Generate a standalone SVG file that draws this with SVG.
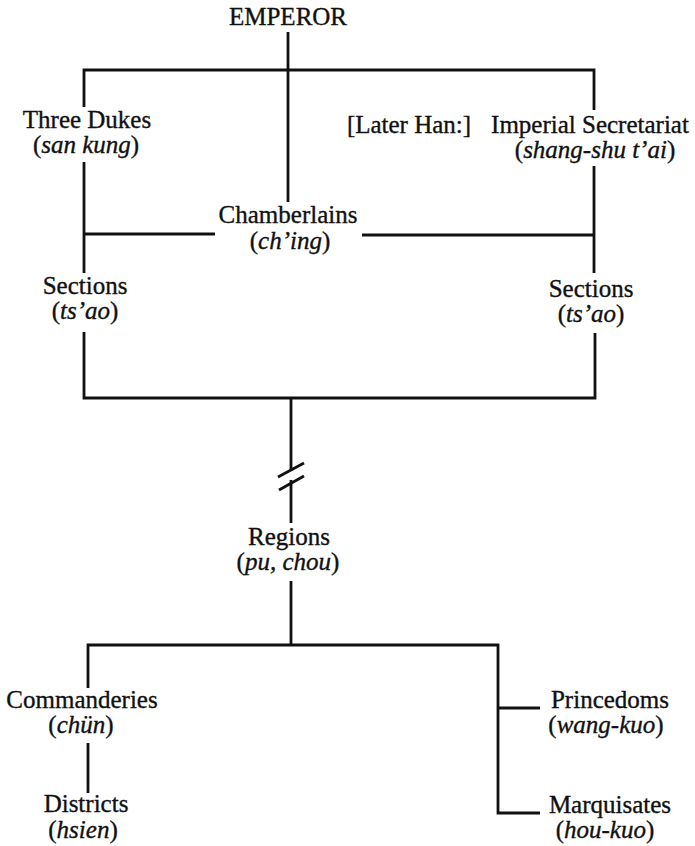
<svg xmlns="http://www.w3.org/2000/svg" width="695" height="846" viewBox="0 0 695 846">
  <style>
    text { font-family: "Liberation Serif", "Times New Roman", serif; font-size: 25px; fill: #111; stroke: #111; stroke-width: 0.35; text-anchor: middle; }
    .it { font-style: italic; }
    .ln { fill: none; stroke: #111; stroke-width: 2.8; stroke-linecap: butt; stroke-linejoin: miter; }
  </style>
  <rect width="695" height="846" fill="#ffffff"/>

  <!-- connectors -->
  <g id="connectors">
    <path class="ln" d="M288 32 V202"/>
    <path class="ln" d="M84 107 V70 H594 V110"/>
    <path class="ln" d="M84 162 V273"/>
    <path class="ln" d="M84 234 H215"/>
    <path class="ln" d="M362 235 H594"/>
    <path class="ln" d="M594 166 V273"/>
    <path class="ln" d="M84 332 V398 H595 V333"/>
    <path class="ln" d="M291 398 V471"/>
    <path class="ln" d="M278 477 L304 463"/>
    <path class="ln" d="M279 490 L304 476"/>
    <path class="ln" d="M291 480 V523"/>
    <path class="ln" d="M291 581 V645"/>
    <path class="ln" d="M88 688 V645 H498 V813 H540"/>
    <path class="ln" d="M498 708 H540"/>
    <path class="ln" d="M88 743 V793"/>
  </g>

  <g id="emperor"><text x="288" y="25">EMPEROR</text></g>
  <g id="three-dukes">
    <text x="87" y="128">Three Dukes</text>
    <text x="86" y="153">(<tspan class="it">san kung</tspan>)</text>
  </g>
  <g id="later-han"><text x="409" y="133">[Later Han:]</text></g>
  <g id="imperial-secretariat">
    <text x="590" y="133">Imperial Secretariat</text>
    <text x="595" y="158">(<tspan class="it">shang-shu t’ai</tspan>)</text>
  </g>
  <g id="chamberlains">
    <text x="288" y="223">Chamberlains</text>
    <text x="290" y="249">(<tspan class="it">ch’ing</tspan>)</text>
  </g>
  <g id="sections-left">
    <text x="85" y="294">Sections</text>
    <text x="85" y="319">(<tspan class="it">ts’ao</tspan>)</text>
  </g>
  <g id="sections-right">
    <text x="591" y="297">Sections</text>
    <text x="591" y="322">(<tspan class="it">ts’ao</tspan>)</text>
  </g>
  <g id="regions">
    <text x="289" y="545">Regions</text>
    <text x="288" y="570">(<tspan class="it">pu, chou</tspan>)</text>
  </g>
  <g id="commanderies">
    <text x="82" y="708">Commanderies</text>
    <text x="81" y="733">(<tspan class="it">chün</tspan>)</text>
  </g>
  <g id="districts">
    <text x="86" y="812">Districts</text>
    <text x="83" y="838">(<tspan class="it">hsien</tspan>)</text>
  </g>
  <g id="princedoms">
    <text x="610" y="708">Princedoms</text>
    <text x="606" y="733">(<tspan class="it">wang-kuo</tspan>)</text>
  </g>
  <g id="marquisates">
    <text x="610" y="813">Marquisates</text>
    <text x="605" y="838">(<tspan class="it">hou-kuo</tspan>)</text>
  </g>
</svg>
